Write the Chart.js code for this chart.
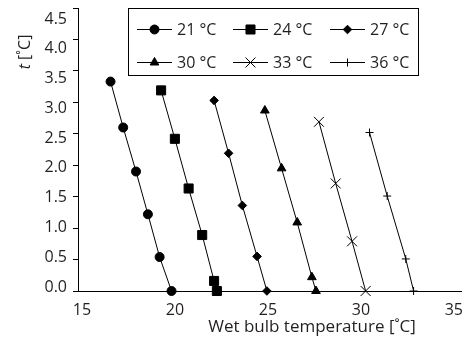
<!DOCTYPE html>
<html>
<head>
<meta charset="utf-8">
<script src="https://cdn.jsdelivr.net/npm/chart.js@4/dist/chart.umd.min.js"></script>
<style>
  html, body { margin: 0; padding: 0; background: #fff; }
  #wrap { width: 469px; height: 340px; }
</style>
</head>
<body>
<div id="wrap"><canvas id="chart" width="469" height="340"></canvas></div>
<script>
'use strict';

// Dry bulb temperatures (series)
const seriesNames = ['21 °C', '24 °C', '27 °C', '30 °C', '33 °C', '36 °C'];
const pointStyles = ['circle', 'rect', 'rectRot', 'triangle', 'crossRot', 'cross'];
const pointSizes = [4.5, 6.4, 4.3, 5, 7, 4];

// Wet bulb temperature [°C] and t [°C]
const wb21 = [16.75, 17.43, 18.12, 18.76, 19.39, 20.03];
const t21 = [3.33, 2.60, 1.90, 1.22, 0.54, 0.0];
const wb24 = [19.47, 20.21, 20.95, 21.68, 22.32, 22.47];
const t24 = [3.19, 2.42, 1.63, 0.89, 0.16, 0.0];
const wb27 = [22.32, 23.10, 23.84, 24.63, 25.16];
const t27 = [3.03, 2.19, 1.36, 0.55, 0.0];
const wb30 = [25.05, 25.95, 26.79, 27.58, 27.80];
const t30 = [2.87, 1.95, 1.09, 0.22, 0.0];
const wb33 = [27.96, 28.86, 29.74, 30.47];
const t33 = [2.69, 1.71, 0.79, 0.0];
const wb36 = [30.68, 31.63, 32.63, 33.05];
const t36 = [2.52, 1.51, 0.51, 0.0];

const xTicks = [15, 20, 25, 30, 35];
const yTicks = [0, 0.5, 1, 1.5, 2, 2.5, 3, 3.5, 4, 4.5];

const xs = [wb21, wb24, wb27, wb30, wb33, wb36];
const ys = [t21, t24, t27, t30, t33, t36];

const ink = '#231f20';
const fontFamily = '"Open Sans", "DejaVu Sans", sans-serif';

const datasets = seriesNames.map((name, i) => ({
    label: name,
    data: xs[i].map((x, j) => ({ x: x, y: ys[i][j] })),
    borderColor: '#000',
    backgroundColor: '#000',
    borderWidth: 1,
    pointStyle: pointStyles[i],
    pointRadius: pointSizes[i],
    pointBorderWidth: 1,
    pointBackgroundColor: '#000',
    pointBorderColor: '#000',
    showLine: true,
    clip: false
}));

// the original y labels drift a little against their ticks
const labelDriftPlugin = {
    id: 'labelDrift',
    beforeDraw(chart) {
        const s = chart.scales.y;
        const items = s.getLabelItems(chart.chartArea);
        items.forEach((it, i) => {
            const v = s.ticks[i].value;
            it.options.translation[1] += -4 + 15 * v / 4.5;
        });
    }
};

// Boxed legend with line + marker, plus axis titles
const decorPlugin = {
    id: 'decor',
    afterDraw(chart) {
        const c = chart.ctx;
        c.save();
        // legend box
        const bx = 128, by = 8, bw = 290, bh = 67;
        c.fillStyle = '#fff';
        c.fillRect(bx, by, bw, bh);
        c.strokeStyle = '#000';
        c.lineWidth = 1;
        c.strokeRect(bx + 0.5, by + 0.5, bw, bh);
        const colX = [137, 233, 330];
        const rowY = [29, 62];
        seriesNames.forEach((name, i) => {
            const x0 = colX[i % 3];
            const y0 = rowY[Math.floor(i / 3)];
            c.strokeStyle = '#000';
            c.fillStyle = '#000';
            c.lineWidth = 1;
            c.beginPath();
            c.moveTo(x0, y0 + 0.5);
            c.lineTo(x0 + 35, y0 + 0.5);
            c.stroke();
            Chart.helpers.drawPoint(c, {
                pointStyle: pointStyles[i],
                radius: pointSizes[i],
                borderWidth: 1
            }, x0 + 17.5, y0 + 0.5);
            c.fillStyle = ink;
            c.font = '16px ' + fontFamily;
            c.textAlign = 'left';
            c.textBaseline = 'middle';
            c.fillText(name, x0 + 40, y0 + 1);
        });
        // x title
        c.fillStyle = ink;
        c.font = '17px ' + fontFamily;
        c.textAlign = 'center';
        c.textBaseline = 'middle';
        c.fillText('Wet bulb temperature [˚C]', 312, 327);
        // y title
        c.translate(25, 52);
        c.rotate(-Math.PI / 2);
        c.font = 'italic 16px ' + fontFamily;
        const tW = c.measureText('t ').width;
        c.font = '16px ' + fontFamily;
        const rW = c.measureText('[˚C]').width;
        const sx = -(tW + rW) / 2;
        c.textAlign = 'left';
        c.font = 'italic 16px ' + fontFamily;
        c.fillText('t ', sx, 0);
        c.font = '16px ' + fontFamily;
        c.fillText('[˚C]', sx + tW, 0);
        c.restore();
    }
};

const ctx = document.getElementById('chart').getContext('2d');
new Chart(ctx, {
    type: 'scatter',
    data: { datasets: datasets },
    options: {
        responsive: false,
        animation: false,
        layout: { padding: { top: 7, right: 0, left: 0, bottom: 0 } },
        plugins: {
            legend: { display: false },
            tooltip: { enabled: false }
        },
        scales: {
            x: {
                type: 'linear',
                min: 15,
                max: 35.6,
                afterBuildTicks: (scale) => { scale.ticks = xTicks.map(v => ({ value: v })); },
                afterFit: (scale) => {
                    scale.height = 49;
                    scale.paddingLeft = 0;
                    scale.paddingRight = 0;
                },
                grid: { display: false },
                border: { display: true, color: '#000', width: 1 },
                ticks: {
                    color: ink,
                    font: { family: fontFamily, size: 16 },
                    padding: 2,
                    labelOffset: 4,
                    maxRotation: 0,
                    autoSkip: false
                }
            },
            y: {
                type: 'linear',
                min: 0,
                max: 4.5,
                afterBuildTicks: (scale) => { scale.ticks = yTicks.map(v => ({ value: v })); },
                afterFit: (scale) => {
                    scale.width = 78;
                    scale.paddingTop = 0;
                    scale.paddingBottom = 0;
                },
                grid: {
                    display: true,
                    drawOnChartArea: false,
                    drawTicks: true,
                    tickLength: 5,
                    color: '#000'
                },
                border: { display: true, color: '#000', width: 1 },
                ticks: {
                    color: ink,
                    font: { family: fontFamily, size: 16 },
                    padding: 6,
                    autoSkip: false,
                    callback: (v) => v.toFixed(1)
                }
            }
        }
    },
    plugins: [labelDriftPlugin, decorPlugin]
});
</script>
</body>
</html>
